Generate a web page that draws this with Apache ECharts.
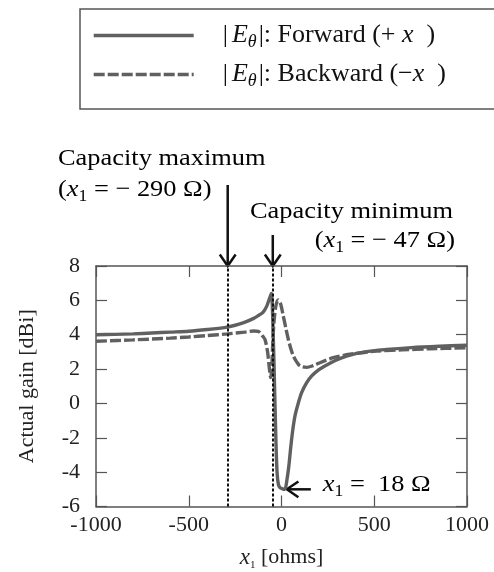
<!DOCTYPE html>
<html>
<head>
<meta charset="utf-8">
<script src="https://cdn.jsdelivr.net/npm/echarts@6/dist/echarts.min.js"></script>
<style>
  html, body { margin: 0; padding: 0; background: #fff; }
  #chart { width: 494px; height: 572px; }
</style>
</head>
<body>
<div id="chart"></div>
<script>
// x1 [ohms] vs actual gain [dBi]
let fwdX = [-1000, -900, -800, -700, -600, -500, -400, -300, -250, -200, -150, -120, -100, -80, -65, -55, -45, -38, -30, -24, -17, -8, 5, 18, 30, 40, 49, 60, 73, 90, 109, 135, 163, 200, 234, 290, 351, 450, 567, 700, 850, 1000]
let fwdY = [4.0, 4.02, 4.05, 4.1, 4.15, 4.2, 4.3, 4.43, 4.55, 4.72, 4.95, 5.15, 5.3, 5.65, 6.1, 6.4, 4.1, 1.2, -2.2, -4.0, -4.7, -4.9, -4.97, -5.0, -4.4, -3.6, -2.64, -1.6, -0.71, 0.0, 0.64, 1.2, 1.6, 1.95, 2.18, 2.5, 2.76, 3.0, 3.14, 3.25, 3.33, 3.39]
let bwdX = [-1000, -800, -600, -500, -400, -290, -200, -150, -125, -100, -89, -75, -65, -58, -52, -46, -40, -30, -18, -5, 10, 25, 37, 50, 64, 80, 100, 136, 170, 207, 279, 369, 513, 650, 800, 1000]
let bwdY = [3.62, 3.7, 3.8, 3.87, 3.95, 4.05, 4.15, 4.22, 4.2, 3.9, 3.72, 3.0, 2.0, 1.5, 2.2, 3.8, 4.8, 5.7, 6.03, 5.8, 5.07, 4.3, 3.72, 3.2, 2.76, 2.45, 2.18, 2.1, 2.2, 2.37, 2.66, 2.86, 3.05, 3.12, 3.18, 3.24]
let capX = [-290, -47]   // capacity maximum / minimum
let minPoint = [18, -5]
let xTicks = [-1000, 1000, 500]
let yTicks = [-6, 8, 2]

let serif = 'Liberation Serif'
let curveColor = '#606060'

let zip = (xs, ys) => xs.map((x, i) => [x, ys[i]])

let EC = echarts.init(document.getElementById('chart'))

let legendRich = {
    t: { fontFamily: serif, fontSize: 26, color: '#111', lineHeight: 30 },
    p: { fontFamily: serif, fontSize: 26, color: '#111', lineHeight: 30, padding: [0, 4, 0, 24] },
    i: { fontFamily: serif, fontSize: 26, fontStyle: 'italic', color: '#111', lineHeight: 30 },
    s: { fontFamily: serif, fontSize: 18, fontStyle: 'italic', color: '#111', lineHeight: 18, padding: [13, 2, 0, 0] }
}

let axisBase = {
    type: 'value',
    axisLine: { show: true, onZero: false, lineStyle: { color: '#555', width: 1.5 } },
    axisTick: { show: true, inside: true, length: 11, lineStyle: { color: '#555', width: 1.2 } },
    splitLine: { show: false }
}

let option = {
    animation: false,
    grid: { left: 96, right: 27, top: 266, bottom: 64 },
    legend: {
        left: 80, top: 9,
        orient: 'vertical',
        itemWidth: 100, itemHeight: 14, itemGap: 8,
        padding: [11, 200, 19, 12],
        borderColor: '#555', borderWidth: 1.5,
        itemStyle: { opacity: 0 },
        lineStyle: { width: 3.4 },
        data: ['Forward', 'Backward'],
        formatter: name => name === 'Forward'
            ? '{p||}{i|E}{s|θ}{t||: Forward (+ }{i|x}{t|  )}'
            : '{p||}{i|E}{s|θ}{t||: Backward (−}{i|x}{t|  )}',
        textStyle: { rich: legendRich }
    },
    xAxis: [Object.assign({}, axisBase, {
        min: xTicks[0], max: xTicks[1], interval: xTicks[2],
        name: '{i|x}{s|1}{t| [ohms]}',
        nameLocation: 'middle', nameGap: 38,
        nameTextStyle: {
            rich: {
                t: { fontFamily: serif, fontSize: 22, color: '#222', lineHeight: 26 },
                i: { fontFamily: serif, fontSize: 23, fontStyle: 'italic', color: '#222', lineHeight: 26 },
                s: { fontFamily: serif, fontSize: 11, color: '#222', lineHeight: 11, padding: [16, 0, 0, 0] }
            }
        },
        axisLabel: { fontFamily: serif, fontSize: 22, color: '#222', margin: 8, formatter: v => String(v) }
    }), Object.assign({}, axisBase, {
        position: 'top', min: xTicks[0], max: xTicks[1], interval: xTicks[2],
        axisLabel: { show: false }
    })],
    yAxis: [Object.assign({}, axisBase, {
        min: yTicks[0], max: yTicks[1], interval: yTicks[2],
        name: 'Actual gain [dBi]',
        nameLocation: 'middle', nameGap: 58,
        nameTextStyle: { fontFamily: serif, fontSize: 22, color: '#222' },
        axisLabel: { fontFamily: serif, fontSize: 22, color: '#222', margin: 16, formatter: v => String(v) }
    }), Object.assign({}, axisBase, {
        position: 'right', min: yTicks[0], max: yTicks[1], interval: yTicks[2],
        axisLabel: { show: false }
    })],
    series: [{
        name: 'Forward', type: 'line',
        data: zip(fwdX, fwdY),
        showSymbol: false, symbol: 'none', smooth: 0.3,
        lineStyle: { color: curveColor, width: 3.4 },
        itemStyle: { color: curveColor },
        z: 3,
        markLine: {
            silent: true, symbol: 'none',
            label: { show: false },
            lineStyle: { color: '#111', type: [3, 2], width: 2 },
            data: capX.map(v => ({ xAxis: v }))
        }
    }, {
        name: 'Backward', type: 'line',
        data: zip(bwdX, bwdY),
        showSymbol: false, symbol: 'none', smooth: 0.3,
        lineStyle: { color: curveColor, width: 3.4, type: [11, 3] },
        itemStyle: { color: curveColor },
        z: 2
    }]
}
EC.setOption(option)

// arrows + annotations, placed from the axis scales
let arrowStyle = { stroke: '#111', lineWidth: 2.5, fill: null }
function arrow(x0, y0, x1, y1) {
    let a = Math.atan2(y1 - y0, x1 - x0), h = 14, w = 0.6
    return {
        type: 'group', children: [
            { type: 'line', shape: { x1: x0, y1: y0, x2: x1, y2: y1 }, style: arrowStyle },
            {
                type: 'polyline', shape: {
                    points: [
                        [x1 - h * Math.cos(a - w), y1 - h * Math.sin(a - w)],
                        [x1, y1],
                        [x1 - h * Math.cos(a + w), y1 - h * Math.sin(a + w)]
                    ]
                }, style: arrowStyle
            }
        ]
    }
}
let annRich = {
    t: { fontFamily: serif, fontSize: 24, color: '#111', lineHeight: 30 },
    i: { fontFamily: serif, fontSize: 24, fontStyle: 'italic', color: '#111', lineHeight: 30 },
    s: { fontFamily: serif, fontSize: 16, color: '#111', lineHeight: 16, padding: [14, 0, 0, 0] }
}
function label(text, x, y, align) {
    return {
        type: 'text', x: x, y: y, scaleX: 1.1,
        style: { text: text, rich: annRich, align: align || 'left', verticalAlign: 'middle' }
    }
}

let top0 = EC.convertToPixel({ gridIndex: 0 }, [0, yTicks[1]])[1]
let pMax = EC.convertToPixel({ gridIndex: 0 }, [capX[0], yTicks[1]])
let pMin = EC.convertToPixel({ gridIndex: 0 }, [capX[1], yTicks[1]])
let pLow = EC.convertToPixel({ gridIndex: 0 }, minPoint)

EC.setOption({
    graphic: [
        arrow(pMax[0], top0 - 81, pMax[0], top0),
        arrow(pMin[0], top0 - 31, pMin[0], top0),
        arrow(pLow[0] + 26, pLow[1], pLow[0] + 2, pLow[1]),
        label('{t|Capacity maximum}', 58, 159),
        label('{t|(}{i|x}{s|1}{t| = − 290 Ω)}', 58, 190),
        label('{t|Capacity minimum}', 250, 212),
        label('{t|(}{i|x}{s|1}{t| = − 47 Ω)}', 455, 241, 'right'),
        label('{i|x}{s|1}{t| =  18 Ω}', pLow[0] + 38, 485)
    ]
})
</script>
</body>
</html>
